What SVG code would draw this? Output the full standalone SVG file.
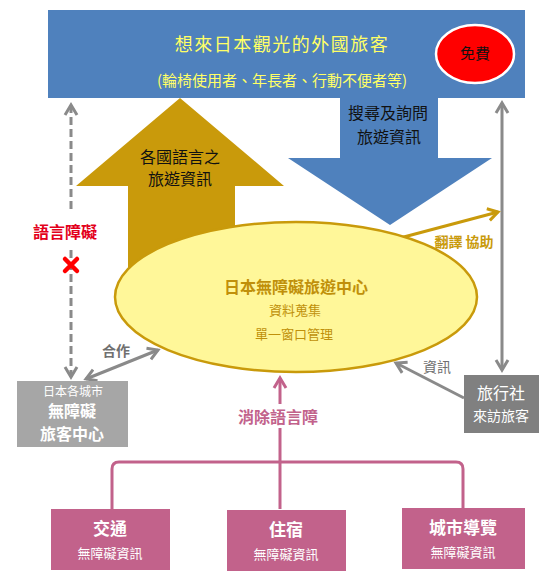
<svg xmlns="http://www.w3.org/2000/svg" width="556" height="580" viewBox="0 0 556 580">
<style>
text{font-family:"Noto Sans CJK TC","Noto Sans CJK SC",sans-serif;text-anchor:middle;}
.g{stroke:#8a8a8a;stroke-width:3;fill:none;}
.pk{stroke:#c2628b;stroke-width:3;fill:none;}
.w{fill:#ffffff;}
.gold{fill:#c0900a;}
</style>
<defs>
<marker id="ag" markerUnits="userSpaceOnUse" markerWidth="16" markerHeight="16" refX="11" refY="7" orient="auto-start-reverse" viewBox="0 0 16 14"><path d="M1,1 L11,7 L1,13" fill="none" stroke="#8a8a8a" stroke-width="3"/></marker>
<marker id="ao" markerUnits="userSpaceOnUse" markerWidth="16" markerHeight="16" refX="11" refY="7" orient="auto" viewBox="0 0 16 14"><path d="M1,1 L11,7 L1,13" fill="none" stroke="#c99a0b" stroke-width="3"/></marker>
<marker id="ap" markerUnits="userSpaceOnUse" markerWidth="16" markerHeight="16" refX="11" refY="7" orient="auto" viewBox="0 0 16 14"><path d="M1,1 L11,7 L1,13" fill="none" stroke="#c2628b" stroke-width="3"/></marker>
</defs>
<rect width="556" height="580" fill="#ffffff"/>

<g id="arrow-up">
<polygon points="180,98 284,186 235,186 235,300 128,300 128,186 76,186" fill="#c99a0b"/>
<text x="180" y="163" font-size="16" fill="#111">各國語言之</text>
<text x="180" y="185" font-size="16" fill="#111">旅遊資訊</text>
</g>

<g id="tourists">
<rect x="48" y="10" width="477" height="88" fill="#4f81bd"/>
<text x="282" y="51" font-size="18" letter-spacing="1.5" fill="#ffff66">想來日本觀光的外國旅客</text>
<text x="282" y="86" font-size="15" fill="#ffff66">(輪椅使用者、年長者、行動不便者等)</text>
</g>

<g id="free">
<ellipse cx="475" cy="54" rx="39" ry="29" fill="#ff0000" stroke="#ffffff" stroke-width="2.5"/>
<text x="475" y="59" font-size="15" fill="#111">免費</text>
</g>

<g id="arrow-down">
<polygon points="340,96 438,96 438,158 492,158 390,225 288,158 340,158" fill="#4f81bd"/>
<text x="388" y="119" font-size="16" fill="#111">搜尋及詢問</text>
<text x="389" y="143" font-size="16" fill="#111">旅遊資訊</text>
</g>

<g id="connectors">
<line class="g" x1="71" y1="105" x2="71" y2="213" stroke-dasharray="8,4" marker-start="url(#ag)"/>
<line class="g" x1="71" y1="250" x2="71" y2="377" stroke-dasharray="8,4" marker-end="url(#ag)"/>
<line class="g" x1="502" y1="103" x2="502" y2="370" marker-start="url(#ag)" marker-end="url(#ag)"/>
<line class="g" x1="86" y1="379" x2="158" y2="350" marker-start="url(#ag)" marker-end="url(#ag)"/>
<line class="g" x1="464" y1="398" x2="396" y2="363" marker-end="url(#ag)"/>
<line x1="400" y1="238" x2="498" y2="212" stroke="#c99a0b" stroke-width="3" marker-end="url(#ao)"/>
<path class="pk" d="M112,509 L112,469 Q112,462 119,462 L456,462 Q463,462 463,469 L463,508"/>
<line class="pk" x1="280" y1="509" x2="280" y2="428"/>
<line class="pk" x1="280" y1="404" x2="280" y2="378" marker-end="url(#ap)"/>
<text x="65" y="238" font-size="16" font-weight="bold" fill="#e3001b">語言障礙</text>
<path d="M65,259 L77,271 M77,259 L65,271" stroke="#ff0000" stroke-width="4.5" stroke-linecap="round"/>
<text x="116" y="356" font-size="14" font-weight="bold" fill="#707070">合作</text>
<text x="437" y="372" font-size="14" fill="#707070">資訊</text>
<text x="464" y="247" font-size="14" font-weight="bold" fill="#c99a0b">翻譯 協助</text>
<text x="278" y="423" font-size="16" font-weight="bold" fill="#c2628b">消除語言障</text>
</g>

<g id="center">
<ellipse cx="296" cy="297" rx="181" ry="75" fill="#fff799" stroke="#c99a0b" stroke-width="2.5"/>
<text x="296" y="293" font-size="16" font-weight="bold" fill="#c0900a">日本無障礙旅遊中心</text>
<text x="295" y="315" font-size="13" class="gold">資料蒐集</text>
<text x="294" y="339" font-size="13" class="gold">單一窗口管理</text>
</g>

<g id="city-center">
<rect x="17" y="381" width="111" height="66" fill="#a6a6a6"/>
<text x="73" y="396" font-size="12" class="w">日本各城市</text>
<text x="72" y="417" font-size="16" font-weight="bold" class="w">無障礙</text>
<text x="72" y="440" font-size="16" font-weight="bold" class="w">旅客中心</text>
</g>

<g id="agency">
<rect x="464" y="375" width="75" height="58" fill="#808080"/>
<text x="501" y="399" font-size="16" class="w">旅行社</text>
<text x="501" y="421" font-size="14" class="w">來訪旅客</text>
</g>

<g id="transport">
<rect x="51" y="509" width="119" height="61" fill="#c2628b"/>
<text x="110" y="535" font-size="17" font-weight="bold" class="w">交通</text>
<text x="110" y="558" font-size="13" class="w">無障礙資訊</text>
</g>
<g id="lodging">
<rect x="227" y="510" width="119" height="61" fill="#c2628b"/>
<text x="286" y="536" font-size="17" font-weight="bold" class="w">住宿</text>
<text x="286" y="559" font-size="13" class="w">無障礙資訊</text>
</g>
<g id="city-guide">
<rect x="402" y="508" width="123" height="61" fill="#c2628b"/>
<text x="463" y="534" font-size="17" font-weight="bold" class="w">城市導覽</text>
<text x="463" y="557" font-size="13" class="w">無障礙資訊</text>
</g>
</svg>
